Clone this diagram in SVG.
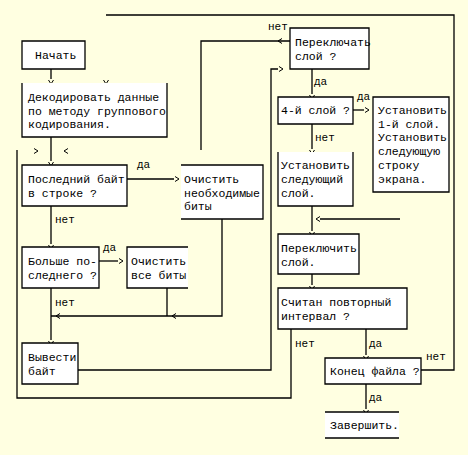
<svg xmlns="http://www.w3.org/2000/svg" xmlns:xlink="http://www.w3.org/1999/xlink" width="468" height="455" viewBox="0 0 468 455">
<style>
.bg{fill:#FFFFE1}
.fill{fill:#FFFFFF;stroke:none}
.bd{fill:none;stroke:#000;stroke-width:1.3}
.ln{fill:none;stroke:#000;stroke-width:1.3}
.ah{fill:none;stroke:#000;stroke-width:1}
text{font-family:"Liberation Mono","DejaVu Sans Mono",monospace;font-size:11.5px;fill:#000}
.lbl{font-size:11px}
</style>
<defs>
<path id="dn" class="ah" d="M-2.5,-2 L0,2 L2.5,-2"/>
<path id="rt" class="ah" d="M-2,-2.5 L2,0 L-2,2.5"/>
<path id="lt" class="ah" d="M2,-2.5 L-2,0 L2,2.5"/>
</defs>
<rect class="bg" x="0" y="0" width="468" height="455"/>

<g id="connectors">
<path class="ln" d="M51,69 V79"/>
<path class="ln" d="M421,370 H454 V15 H106"/>
<path class="ln" d="M51,137 V161"/>
<path class="ln" d="M201,150 V41 H290"/>
<path class="ln" d="M291,329 V398 H17 V150"/>
<path class="ln" d="M127,179 H174"/>
<path class="ln" d="M51,206 V244"/>
<path class="ln" d="M99,261 H118"/>
<path class="ln" d="M51,288 V340"/>
<path class="ln" d="M167,288 V316"/>
<path class="ln" d="M222,219 V316 H51"/>
<path class="ln" d="M78,370 H271 V69 H278"/>
<path class="ln" d="M312,69 V94"/>
<path class="ln" d="M353,110 H364"/>
<path class="ln" d="M312,124 V149"/>
<path class="ln" d="M312,206 V231"/>
<path class="ln" d="M400,219 H320"/>
<path class="ln" d="M312,274 V285"/>
<path class="ln" d="M366,329 V355"/>
<path class="ln" d="M366,384 V409"/>
<use xlink:href="#dn" x="51" y="82"/>
<use xlink:href="#dn" x="106" y="82"/>
<use xlink:href="#rt" x="36" y="151"/>
<use xlink:href="#lt" x="66" y="151"/>
<use xlink:href="#dn" x="51" y="164"/>
<use xlink:href="#rt" x="177" y="179"/>
<use xlink:href="#dn" x="51" y="247"/>
<use xlink:href="#rt" x="121" y="261"/>
<use xlink:href="#lt" x="58" y="316"/>
<use xlink:href="#lt" x="174" y="316"/>
<use xlink:href="#dn" x="51" y="343"/>
<use xlink:href="#lt" x="280" y="41"/>
<use xlink:href="#rt" x="281" y="69"/>
<use xlink:href="#dn" x="312" y="97"/>
<use xlink:href="#rt" x="367" y="110"/>
<use xlink:href="#dn" x="312" y="152"/>
<use xlink:href="#lt" x="318" y="219"/>
<use xlink:href="#dn" x="312" y="234"/>
<use xlink:href="#dn" x="312" y="288"/>
<use xlink:href="#dn" x="366" y="358"/>
<use xlink:href="#dn" x="366" y="412"/>
<text class="lbl" x="268" y="30">нет</text>
<text class="lbl" x="314" y="85">да</text>
<text class="lbl" x="357" y="100">да</text>
<text class="lbl" x="315" y="141">нет</text>
<text class="lbl" x="137" y="168">да</text>
<text class="lbl" x="55" y="223">нет</text>
<text class="lbl" x="103" y="251">да</text>
<text class="lbl" x="55" y="306">нет</text>
<text class="lbl" x="295" y="347">нет</text>
<text class="lbl" x="369" y="347">да</text>
<text class="lbl" x="426" y="360">нет</text>
<text class="lbl" x="369" y="401">да</text>
</g>

<g id="n-start">
<rect class="fill" x="22" y="41" width="63" height="28"/>
<path class="bd" d="M22,41 H85 V69 H22 Z"/>
<text x="35" y="59">Начать</text>
</g>

<g id="n-decode">
<rect class="fill" x="22" y="83" width="145" height="54"/>
<path class="bd" d="M22,83 V137 H167 V83"/>
<text x="28" y="101">Декодировать данные</text>
<text x="28" y="114.5">по методу группового</text>
<text x="28" y="128">кодирования.</text>
</g>

<g id="n-lastbyte">
<rect class="fill" x="22" y="165" width="105" height="41"/>
<path class="bd" d="M22,165 H127 V206 H22 Z"/>
<text x="28" y="183">Последний байт</text>
<text x="28" y="197">в строке ?</text>
</g>

<g id="n-clearneeded">
<rect class="fill" x="181" y="165" width="82" height="54"/>
<path class="bd" d="M181,165 H263 V219 H181"/>
<text x="184" y="183">Очистить</text>
<text x="184" y="197">необходимые</text>
<text x="184" y="210">биты</text>
</g>

<g id="n-greater">
<rect class="fill" x="22" y="247" width="77" height="41"/>
<path class="bd" d="M22,247 H99 V288 H22 Z"/>
<text x="28" y="265">Больше по-</text>
<text x="28" y="279">следнего ?</text>
</g>

<g id="n-clearall">
<rect class="fill" x="127" y="247" width="61" height="41"/>
<path class="bd" d="M188,247 H127 V288 H188"/>
<text x="131" y="265">Очистить</text>
<text x="131" y="279">все биты</text>
</g>

<g id="n-output">
<rect class="fill" x="22" y="343" width="56" height="41"/>
<path class="bd" d="M22,343 H78 V384 H22 Z"/>
<text x="28" y="361">Вывести</text>
<text x="28" y="375">байт</text>
</g>

<g id="n-switchq">
<rect class="fill" x="290" y="28" width="79" height="41"/>
<path class="bd" d="M290,28 H369 V69 H290 Z"/>
<text x="295" y="46">Переключать</text>
<text x="295" y="60">слой ?</text>
</g>

<g id="n-layer4">
<rect class="fill" x="278" y="97" width="75" height="27"/>
<path class="bd" d="M278,97 H353 V124 H278 Z"/>
<text x="281" y="114">4-й слой ?</text>
</g>

<g id="n-setfirst">
<rect class="fill" x="373" y="97" width="76" height="95"/>
<path class="bd" d="M373,97 H449 V192 H373 Z"/>
<text x="378" y="114">Установить</text>
<text x="378" y="128">1-й слой.</text>
<text x="378" y="141">Установить</text>
<text x="378" y="155">следующую</text>
<text x="378" y="169">строку</text>
<text x="378" y="183">экрана.</text>
</g>

<g id="n-setnext">
<rect class="fill" x="278" y="152" width="75" height="54"/>
<path class="bd" d="M278,152 V206 H353 V152"/>
<text x="281" y="169">Установить</text>
<text x="281" y="183">следующий</text>
<text x="281" y="197">слой.</text>
</g>

<g id="n-switch">
<rect class="fill" x="278" y="234" width="81" height="40"/>
<path class="bd" d="M278,234 H359 V274 H278 Z"/>
<text x="281" y="252">Переключить</text>
<text x="281" y="266">слой.</text>
</g>

<g id="n-repeat">
<rect class="fill" x="278" y="288" width="129" height="41"/>
<path class="bd" d="M278,288 H407 V329 H278 Z"/>
<text x="281" y="306">Считан повторный</text>
<text x="281" y="320">интервал ?</text>
</g>

<g id="n-eof">
<rect class="fill" x="325" y="358" width="96" height="26"/>
<path class="bd" d="M325,358 H421 V384 H325 Z"/>
<text x="330" y="375">Конец файла ?</text>
</g>

<g id="n-end">
<rect class="fill" x="325" y="412" width="74" height="26"/>
<path class="bd" d="M325,412 H399 M325,438 H399"/>
<text x="330" y="429">Завершить.</text>
</g>
</svg>
